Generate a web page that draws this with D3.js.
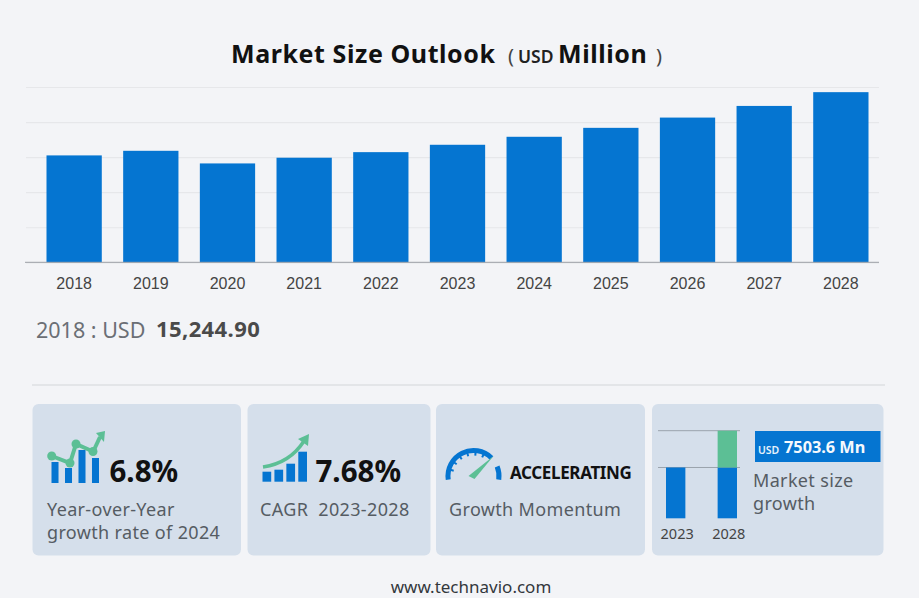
<!DOCTYPE html>
<html>
<head>
<meta charset="utf-8">
<script src="https://cdn.jsdelivr.net/npm/d3@7"></script>
<style>
html, body { margin: 0; padding: 0; background: #f3f4f7; }
svg { display: block; }
text { font-family: "Noto Sans", sans-serif; white-space: pre; }
.tick-year { font-family: "Liberation Sans", Arial, sans-serif; }
</style>
</head>
<body>
<div id="chart"></div>
<script>
// values
var years = ["2018", "2019", "2020", "2021", "2022", "2023", "2024", "2025", "2026", "2027", "2028"];
var marketSize = [15244.9, 15900, 14100, 14915, 15710, 16760, 17900, 19175, 20640, 22300, 24264];
var gridValues = [0, 5000, 10000, 15000, 20000, 25000];

// small bar chart in the last card (schematic in the original, not to scale)
var miniYears = ["2023", "2028"];
var miniBase = [58, 58];
var miniGrowth = [0, 42];

// icon shapes
var icon1Bars = [21, 15, 33, 25];
var icon1Trend = [27, 20, 39, 31.5];
var icon2Bars = [10, 12, 18, 30];

var blue = "#0575d1", green = "#5cbf95", cardFill = "#d5dfeb", dark = "#111", grey = "#555c63";
var bodySize = 18, bodySpacing = 0.35;

var svg = d3.select("#chart").append("svg").attr("width", 919).attr("height", 598);

function label(x, y, str, size, weight, fill, anchor) {
	return svg.append("text").attr("x", x).attr("y", y).text(str)
		.attr("font-size", size).attr("font-weight", weight || 400)
		.attr("fill", fill || grey).attr("text-anchor", anchor || "start");
}

function bodyLabel(x, y, str) {
	return label(x, y, str, bodySize).attr("letter-spacing", bodySpacing);
}

// title
label(231, 63, "Market Size Outlook", 25, 700, dark).attr("letter-spacing", 0.58);
label(508, 63, "(", 20, 400, "#444");
label(518, 63, "USD", 17.5, 600, "#222");
label(558, 63, "Million", 25, 700, dark).attr("letter-spacing", 0.58);
label(656, 63, ")", 20, 400, "#444");

// main chart
var x = d3.scaleBand().domain(years).range([46.5, 868.5]).paddingInner(0.279).paddingOuter(0);
var y = d3.scaleLinear().domain([0, 25000]).range([262.3, 87]);

var grid = svg.append("g").attr("transform", "translate(26,0)")
	.call(d3.axisLeft(y).tickValues(gridValues).tickSize(-853).tickFormat(""));
grid.select(".domain").remove();
grid.selectAll(".tick line").attr("stroke", "#e6e7ea").attr("stroke-width", 1.2);

svg.selectAll("rect.bar").data(marketSize).enter().append("rect")
	.attr("class", "bar")
	.attr("x", function(d, i) { return x(years[i]); })
	.attr("width", x.bandwidth())
	.attr("y", function(d) { return y(d); })
	.attr("height", function(d) { return y(0) - y(d); })
	.attr("fill", blue);

var xAxis = svg.append("g").attr("transform", "translate(0,262.3)")
	.call(d3.axisBottom(x).tickSize(0).tickPadding(15));
xAxis.select(".domain").remove();
xAxis.selectAll("text").attr("class", "tick-year").attr("font-size", 16).attr("fill", "#444");
svg.append("line").attr("x1", 25).attr("x2", 879).attr("y1", y(0)).attr("y2", y(0))
	.attr("stroke", "#9b9fa5").attr("stroke-width", 1);

// readout under the chart
label(36, 338, "2018 : USD", 21.5, 400, "#6b6f75");
label(156, 337, d3.format(",.2f")(marketSize[0]), 22, 700, "#4a4a4a").attr("letter-spacing", 0.4);

svg.append("line").attr("x1", 32).attr("x2", 885).attr("y1", 385).attr("y2", 385)
	.attr("stroke", "#d3d5d9").attr("stroke-width", 1.2);

// cards
var cardLeft = [32.5, 247.5, 436, 652];
var cardRight = [241, 430.5, 645, 883.5];
svg.selectAll("rect.card").data(cardLeft).enter().append("rect")
	.attr("class", "card")
	.attr("x", function(d) { return d; })
	.attr("width", function(d, i) { return cardRight[i] - d; })
	.attr("y", 404).attr("height", 151.5).attr("rx", 6)
	.attr("fill", cardFill);

// card 1 icon
var ic1x = d3.scaleBand().domain(d3.range(4)).range([51.5, 99]).paddingInner(0.48);
var ic1y = d3.scaleLinear().domain([0, 33]).range([483, 450]);
var ic1px = [51.7, 70, 76, 93];
svg.selectAll("rect.ic1").data(icon1Bars).enter().append("rect")
	.attr("class", "ic1")
	.attr("x", function(d, i) { return ic1x(i); })
	.attr("width", ic1x.bandwidth())
	.attr("y", function(d) { return ic1y(d); })
	.attr("height", function(d) { return ic1y(0) - ic1y(d); })
	.attr("fill", blue);
var ic1Line = d3.line()
	.x(function(d, i) { return ic1px[i]; })
	.y(function(d) { return ic1y(d); });
svg.append("path").attr("d", ic1Line(icon1Trend)).attr("fill", "none").attr("stroke", green).attr("stroke-width", 4);
svg.selectAll("circle.ic1").data(icon1Trend).enter().append("circle")
	.attr("class", "ic1")
	.attr("cx", function(d, i) { return ic1px[i]; })
	.attr("cy", function(d) { return ic1y(d); })
	.attr("r", 4.5).attr("fill", green);
svg.append("path").attr("d", "M93,452L100,437").attr("stroke", green).attr("stroke-width", 4);
svg.append("path").attr("d", "M96,433L105,431L104,442Z").attr("fill", green);
label(109.5, 482, "6.8%", 29.5, 700, dark);
bodyLabel(47, 516, "Year-over-Year");
bodyLabel(47, 539, "growth rate of 2024");

// card 2 icon
var ic2x = d3.scaleBand().domain(d3.range(4)).range([262.5, 307]).paddingInner(0.27);
var ic2y = d3.scaleLinear().domain([0, 30]).range([481.7, 451.7]);
svg.selectAll("rect.ic2").data(icon2Bars).enter().append("rect")
	.attr("class", "ic2")
	.attr("x", function(d, i) { return ic2x(i); })
	.attr("width", ic2x.bandwidth())
	.attr("y", function(d) { return ic2y(d); })
	.attr("height", function(d) { return ic2y(0) - ic2y(d); })
	.attr("fill", blue);
svg.append("path").attr("d", "M263,467Q290,463 304,441").attr("fill", "none").attr("stroke", green).attr("stroke-width", 3.5);
svg.append("path").attr("d", "M298,439L309,434L308,446Z").attr("fill", green);
label(315.5, 482, "7.68%", 29.5, 700, dark);
bodyLabel(260, 516, "CAGR  2023-2028");

// card 3 gauge
var gauge = svg.append("g").attr("transform", "translate(473.5,476)");
var gaugeArc = d3.arc().innerRadius(23).outerRadius(28);
[[-98, 45], [68, 98]].forEach(function(a) {
	gauge.append("path")
		.attr("d", gaugeArc({ startAngle: a[0] * Math.PI / 180, endAngle: a[1] * Math.PI / 180 }))
		.attr("fill", blue);
});
d3.range(-75, 45, 20).forEach(function(a) {
	var t = a * Math.PI / 180;
	gauge.append("line")
		.attr("x1", 24 * Math.sin(t)).attr("y1", -24 * Math.cos(t))
		.attr("x2", 20.5 * Math.sin(t)).attr("y2", -20.5 * Math.cos(t))
		.attr("stroke", blue).attr("stroke-width", 2);
});
gauge.append("path").attr("d", "M-5,0L20,-20L1,3Z").attr("fill", green);
label(510, 479, "ACCELERATING", 17, 700, dark).attr("letter-spacing", -0.35);
bodyLabel(449, 516, "Growth Momentum");

// card 4 small chart
var mx = d3.scaleBand().domain(miniYears).range([666, 737]).paddingInner(0.625).paddingOuter(0);
var my = d3.scaleLinear().domain([0, 100]).range([518.3, 430.7]);
svg.append("line").attr("x1", 658).attr("x2", 740).attr("y1", my(100)).attr("y2", my(100)).attr("stroke", "#9aa3ad");
svg.append("line").attr("x1", 658).attr("x2", 740).attr("y1", my(58)).attr("y2", my(58)).attr("stroke", "#9aa3ad");
miniYears.forEach(function(yr, i) {
	svg.append("rect").attr("x", mx(yr)).attr("width", mx.bandwidth())
		.attr("y", my(miniBase[i])).attr("height", my(0) - my(miniBase[i])).attr("fill", blue);
	if (miniGrowth[i] > 0) {
		svg.append("rect").attr("x", mx(yr)).attr("width", mx.bandwidth())
			.attr("y", my(miniBase[i] + miniGrowth[i])).attr("height", my(0) - my(miniGrowth[i])).attr("fill", green);
	}
	label(mx(yr) + mx.bandwidth() / 2 + 1.5, 539, yr, 14.5, 400, "#444", "middle");
});
svg.append("rect").attr("x", 755).attr("y", 431).attr("width", 125.5).attr("height", 31).attr("fill", blue);
label(758, 454, "USD", 10.5, 600, "#e6f1fb");
label(784, 453, "7503.6 Mn", 16.3, 700, "#f5f9fd");
bodyLabel(753, 487, "Market size");
bodyLabel(753, 510, "growth");

// footer
label(471, 593, "www.technavio.com", 17, 400, "#33383d", "middle");
</script>
</body>
</html>
